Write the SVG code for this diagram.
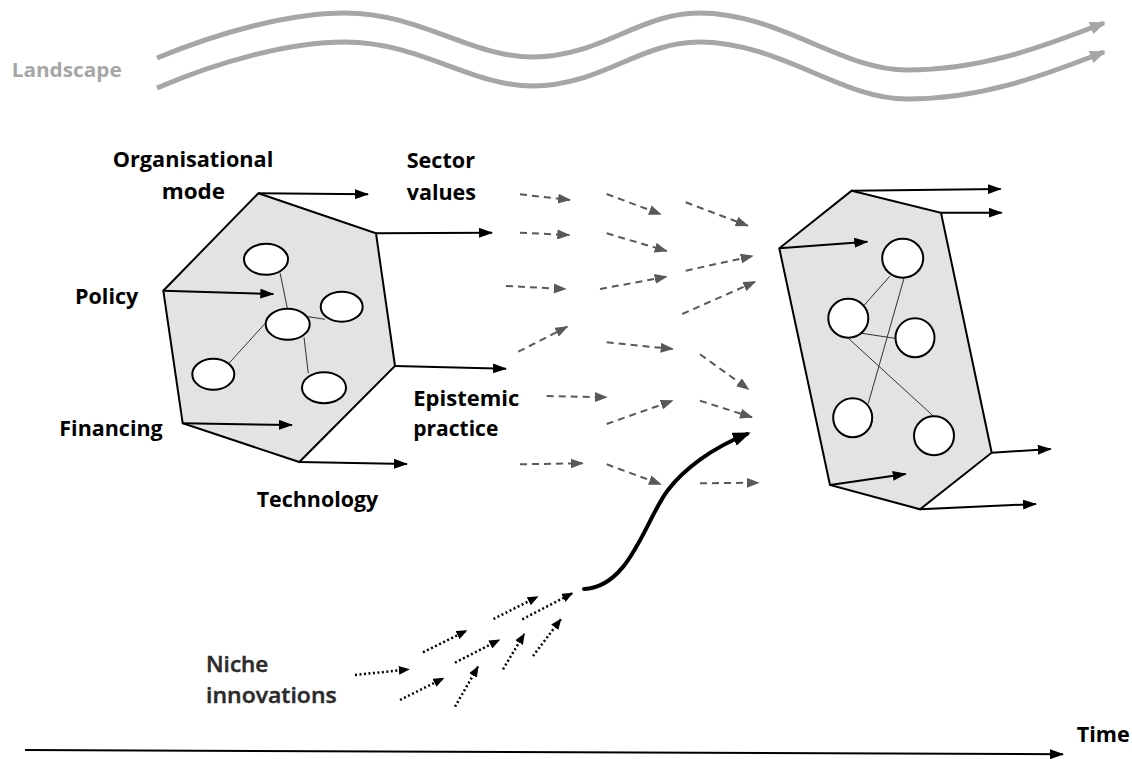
<svg xmlns="http://www.w3.org/2000/svg" width="1132" height="759" viewBox="0 0 1132 759">
  <style>
    .lbl { font-family: "Open Sans", "Liberation Sans", sans-serif; font-weight: bold; font-size: 22px; fill: #000; }
    .land { font-family: "Open Sans", "Liberation Sans", sans-serif; font-weight: bold; font-size: 20px; fill: #a6a6a6; }
    .niche { font-family: "Open Sans", "Liberation Sans", sans-serif; font-weight: 600; font-size: 22px; fill: #2b2b2b; stroke: #2b2b2b; stroke-width: 0.45; }
    .hex { fill: #e3e3e3; stroke: #000; stroke-width: 2; stroke-linejoin: miter; }
    .node { fill: #fff; stroke: #000; stroke-width: 2; }
    .link { stroke: #333; stroke-width: 1; fill: none; }
    .arr { stroke: #000; stroke-width: 2; fill: none; marker-end: url(#ah-black); }
    .dash { stroke: #595959; stroke-width: 2; fill: none; stroke-dasharray: 7 5; marker-end: url(#ah-gray); }
    .dot { stroke: #000; stroke-width: 2.5; fill: none; stroke-dasharray: 2 2.5; marker-end: url(#ah-dot); }
    .wave { stroke: #a6a6a6; stroke-width: 5; fill: none; marker-end: url(#ah-wave); }
    .surge { stroke: #000; stroke-width: 4; fill: none; stroke-linecap: round; marker-end: url(#ah-surge); }
    .time { stroke: #000; stroke-width: 2; fill: none; marker-end: url(#ah-black); }
  </style>
  <defs>
    <marker id="ah-black" viewBox="0 0 14 10" refX="13" refY="5" markerWidth="14" markerHeight="10" markerUnits="userSpaceOnUse" orient="auto">
      <path d="M0,0 L14,5 L0,10 z" fill="#000"/>
    </marker>
    <marker id="ah-gray" viewBox="0 0 13 10" refX="12" refY="5" markerWidth="13" markerHeight="10" markerUnits="userSpaceOnUse" orient="auto">
      <path d="M0,0 L13,5 L0,10 z" fill="#595959"/>
    </marker>
    <marker id="ah-dot" viewBox="0 0 11 9" refX="10" refY="4.5" markerWidth="11" markerHeight="9" markerUnits="userSpaceOnUse" orient="auto">
      <path d="M0,0 L11,4.5 L0,9 z" fill="#000"/>
    </marker>
    <marker id="ah-wave" viewBox="0 0 16 13" refX="14" refY="6.5" markerWidth="16" markerHeight="13" markerUnits="userSpaceOnUse" orient="auto">
      <path d="M0,0 L16,6.5 L0,13 z" fill="#a6a6a6"/>
    </marker>
    <marker id="ah-surge" viewBox="0 0 18 14" refX="14" refY="7" markerWidth="18" markerHeight="14" markerUnits="userSpaceOnUse" orient="auto">
      <path d="M0,0 L18,7 L0,14 z" fill="#000"/>
    </marker>
  </defs>

  <rect width="1132" height="759" fill="#fff"/>

  <!-- landscape band -->
  <g id="landscape">
    <text class="land" x="11.7" y="77" textLength="110" lengthAdjust="spacingAndGlyphs">Landscape</text>
    <path class="wave" d="M157,58 C220,32 290,13 345,13 C420,13 470,57 533,57 C600,57 640,13 699,13 C780,13 840,70 907,70 C980,70 1040,48 1104,23"/>
    <path class="wave" d="M157,88 C220,61 290,42 345,42 C420,42 470,86 533,86 C600,86 640,42 699,42 C780,42 840,99 907,99 C980,99 1040,77 1104,52"/>
  </g>

  <!-- current regime -->
  <g id="regime-current">
    <polygon class="hex" points="258.3,193.3 376,233.3 395,366 299.3,462 182.7,423.3 163.3,290.7"/>
    <line class="link" x1="280" y1="272.7" x2="287.3" y2="308.3"/>
    <line class="link" x1="308.3" y1="316.7" x2="325" y2="319.3"/>
    <line class="link" x1="266.7" y1="321.7" x2="228.3" y2="364"/>
    <line class="link" x1="304" y1="337.3" x2="308.3" y2="373.3"/>
    <ellipse class="node" cx="266" cy="259.3" rx="22" ry="15.5"/>
    <ellipse class="node" cx="287.7" cy="324.3" rx="22" ry="15.5"/>
    <ellipse class="node" cx="341.7" cy="306.7" rx="21" ry="15"/>
    <ellipse class="node" cx="213.3" cy="374.3" rx="21" ry="15.5"/>
    <ellipse class="node" cx="324" cy="387.7" rx="22" ry="15.5"/>
  </g>

  <!-- dimension labels -->
  <g id="labels">
    <text class="lbl" x="112.7" y="166.7" textLength="160.6" lengthAdjust="spacingAndGlyphs">Organisational</text>
    <text class="lbl" x="161.7" y="198.5" textLength="63.3" lengthAdjust="spacingAndGlyphs">mode</text>
    <text class="lbl" x="406.7" y="168.3" textLength="68.3" lengthAdjust="spacingAndGlyphs">Sector</text>
    <text class="lbl" x="406.7" y="200.3" textLength="69.3" lengthAdjust="spacingAndGlyphs">values</text>
    <text class="lbl" x="75" y="303.8" textLength="63.3" lengthAdjust="spacingAndGlyphs">Policy</text>
    <text class="lbl" x="59.3" y="435.5" textLength="103.4" lengthAdjust="spacingAndGlyphs">Financing</text>
    <text class="lbl" x="413.3" y="405.7" textLength="106" lengthAdjust="spacingAndGlyphs">Epistemic</text>
    <text class="lbl" x="413.3" y="436" textLength="85" lengthAdjust="spacingAndGlyphs">practice</text>
    <text class="lbl" x="256.7" y="506.7" textLength="121.6" lengthAdjust="spacingAndGlyphs">Technology</text>
  </g>

  <!-- new regime -->
  <g id="regime-new">
    <polygon class="hex" points="851.7,190.7 941,212.7 991.7,452.7 920,509.3 830,485 779.3,248.3"/>
    <line class="link" x1="890" y1="276" x2="864.3" y2="305"/>
    <line class="link" x1="904" y1="278.3" x2="868.3" y2="403.3"/>
    <line class="link" x1="861.7" y1="333.3" x2="895" y2="338.3"/>
    <line class="link" x1="848.3" y1="338.3" x2="933.3" y2="416"/>
    <ellipse class="node" cx="902.7" cy="258.3" rx="20.5" ry="19.5"/>
    <ellipse class="node" cx="848.3" cy="318.3" rx="20" ry="19.5"/>
    <ellipse class="node" cx="915" cy="337.7" rx="19.5" ry="19.5"/>
    <ellipse class="node" cx="852.7" cy="417.7" rx="19.5" ry="19.5"/>
    <ellipse class="node" cx="934" cy="435.7" rx="20" ry="19.5"/>
  </g>

  <!-- niche innovations -->
  <g id="niche">
    <text class="niche" x="206" y="671.7" textLength="62.3" lengthAdjust="spacingAndGlyphs">Niche</text>
    <text class="niche" x="206" y="703.3" textLength="130.7" lengthAdjust="spacingAndGlyphs">innovations</text>
  </g>

  <!-- time axis -->
  <g id="time">
    <text class="lbl" x="1076.7" y="742" textLength="53" lengthAdjust="spacingAndGlyphs">Time</text>
  </g>

  <g id="connectors">
    <!-- arrows leaving the current regime -->
    <line class="arr" x1="258.3" y1="193.3" x2="368" y2="194.3"/>
    <line class="arr" x1="376" y1="233.3" x2="492" y2="232.7"/>
    <line class="arr" x1="395" y1="366" x2="506" y2="368.7"/>
    <line class="arr" x1="299.3" y1="462" x2="407" y2="464"/>
    <line class="arr" x1="182.7" y1="423.3" x2="292" y2="425"/>
    <line class="arr" x1="163.3" y1="290.7" x2="273.3" y2="294"/>

    <!-- transition field -->
    <line class="dash" x1="520" y1="194.3" x2="570" y2="200"/>
    <line class="dash" x1="520" y1="232.7" x2="569.3" y2="235"/>
    <line class="dash" x1="506" y1="286" x2="565.7" y2="289"/>
    <line class="dash" x1="518.3" y1="351.7" x2="567.3" y2="326.7"/>
    <line class="dash" x1="546.7" y1="396" x2="606.7" y2="397.3"/>
    <line class="dash" x1="520" y1="464.3" x2="582.7" y2="463.3"/>

    <line class="dash" x1="606.7" y1="194" x2="661" y2="214.3"/>
    <line class="dash" x1="606.7" y1="233.3" x2="666.7" y2="251"/>
    <line class="dash" x1="600" y1="289" x2="666.7" y2="276.7"/>
    <line class="dash" x1="606.7" y1="342.3" x2="672.7" y2="349"/>
    <line class="dash" x1="606.7" y1="424" x2="672.7" y2="400.7"/>
    <line class="dash" x1="606.7" y1="464.3" x2="661" y2="484.3"/>

    <line class="dash" x1="685.7" y1="202.3" x2="747.7" y2="225.7"/>
    <line class="dash" x1="685.7" y1="270.7" x2="752.7" y2="256"/>
    <line class="dash" x1="682.3" y1="314" x2="755.3" y2="281.7"/>
    <line class="dash" x1="700" y1="354.3" x2="748.7" y2="389.3"/>
    <line class="dash" x1="700" y1="400.7" x2="752" y2="417.3"/>
    <line class="dash" x1="700" y1="483.3" x2="758.7" y2="482.7"/>

    <!-- arrows on the new regime -->
    <line class="arr" x1="851.7" y1="190.7" x2="1000.7" y2="189"/>
    <line class="arr" x1="941" y1="212.7" x2="1001.7" y2="212.7"/>
    <line class="arr" x1="779.3" y1="248.3" x2="867.3" y2="241.7"/>
    <line class="arr" x1="991.7" y1="452.7" x2="1050.7" y2="449"/>
    <line class="arr" x1="830" y1="485" x2="905.7" y2="474"/>
    <line class="arr" x1="920" y1="509.3" x2="1036" y2="504"/>

    <!-- niche arrows -->
    <line class="dot" x1="355" y1="675" x2="408.8" y2="669.3"/>
    <line class="dot" x1="400" y1="700" x2="443.5" y2="678.3"/>
    <line class="dot" x1="423" y1="652.3" x2="466.5" y2="630.7"/>
    <line class="dot" x1="455" y1="706.7" x2="478" y2="666.7"/>
    <line class="dot" x1="455" y1="662.7" x2="499.2" y2="640"/>
    <line class="dot" x1="493.5" y1="619" x2="537.7" y2="596.7"/>
    <line class="dot" x1="503" y1="669.3" x2="524.2" y2="634"/>
    <line class="dot" x1="522.3" y1="619.3" x2="572.3" y2="593.3"/>
    <line class="dot" x1="533" y1="656" x2="560.8" y2="619.3"/>

    <!-- breakthrough -->
    <path class="surge" d="M584,589 C630,587 645,520 668,490 C684,469 712,448 747,434"/>

    <!-- time axis -->
    <line class="time" x1="25" y1="750" x2="1063" y2="754.3"/>
  </g>
</svg>
